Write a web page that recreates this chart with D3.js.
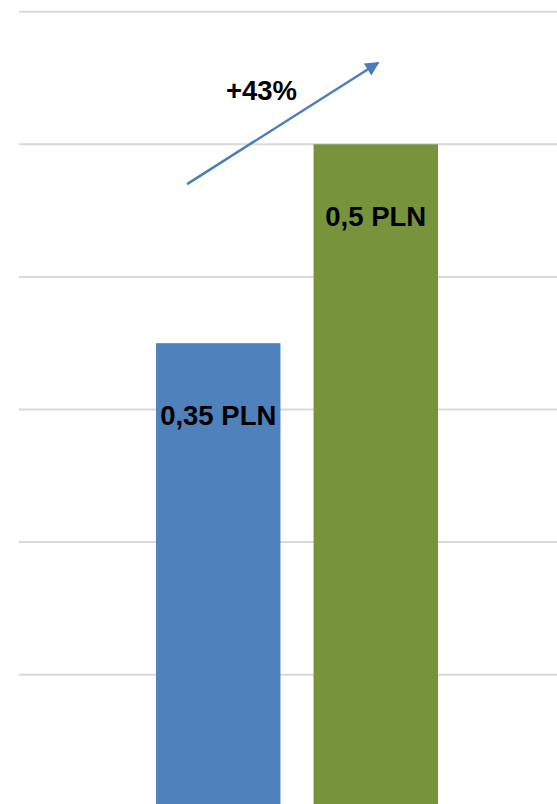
<!DOCTYPE html>
<html>
<head>
<meta charset="utf-8">
<script src="https://cdn.jsdelivr.net/npm/d3@7"></script>
<style>
  html, body { margin: 0; padding: 0; background: #fff; }
  svg { display: block; }
  .lbl { font-family: "Liberation Sans", Arial, sans-serif; font-weight: bold; fill: #000; }
</style>
</head>
<body>
<svg id="chart" width="557" height="804"></svg>
<script>
// data
var categories = ["przed", "po"];
var values = [0.35, 0.5];
var labels = ["0,35 PLN", "0,5 PLN"];
var colors = ["#4f81bd", "#77933c"];
var gridTicks = [0.1, 0.2, 0.3, 0.4, 0.5, 0.6];
var changeLabel = "+43%";

(function(){
	var svg = d3.select("#chart");

	var x = d3.scaleBand()
		.domain(categories)
		.range([156, 438])
		.paddingInner(0.21)
		.paddingOuter(0);

	var y = d3.scaleLinear()
		.domain([0, 0.6])
		.range([807.3, 11.7]);

	// gridlines
	svg.append("g")
		.selectAll("line")
		.data(gridTicks)
		.enter().append("line")
			.attr("x1", 19)
			.attr("x2", 557)
			.attr("y1", function(d){ return y(d); })
			.attr("y2", function(d){ return y(d); })
			.attr("stroke", "#d9d9d9")
			.attr("stroke-width", 2);

	// bars
	svg.append("g")
		.selectAll("rect")
		.data(values)
		.enter().append("rect")
			.attr("x", function(d, i){ return x(categories[i]); })
			.attr("y", function(d){ return y(d); })
			.attr("width", x.bandwidth())
			.attr("height", function(d){ return y(0) - y(d); })
			.attr("fill", function(d, i){ return colors[i]; });

	// value labels
	svg.append("g")
		.selectAll("text")
		.data(values)
		.enter().append("text")
			.attr("class", "lbl")
			.attr("x", function(d, i){ return x(categories[i]) + x.bandwidth() / 2; })
			.attr("y", function(d){ return y(d) + 82; })
			.attr("text-anchor", "middle")
			.style("font-size", "27.5px")
			.text(function(d, i){ return labels[i]; });

	// arrow annotation
	var defs = svg.append("defs");
	defs.append("marker")
		.attr("id", "head")
		.attr("viewBox", "0 0 10 10")
		.attr("refX", 9)
		.attr("refY", 5)
		.attr("markerUnits", "userSpaceOnUse")
		.attr("markerWidth", 18)
		.attr("markerHeight", 14)
		.attr("orient", "auto")
		.append("path")
			.attr("d", "M0,0 L10,5 L0,10 Z")
			.attr("fill", "#4a7ebb");

	var x0 = x(categories[0]) + x.bandwidth() * 0.25;
	var y0 = y(0.47);
	var x1 = x(categories[1]) + x.bandwidth() * 0.52;
	var y1 = y(0.5615);

	svg.append("line")
		.attr("x1", x0)
		.attr("y1", y0)
		.attr("x2", x1)
		.attr("y2", y1)
		.attr("stroke", "#4a7ebb")
		.attr("stroke-width", 2.5)
		.attr("marker-end", "url(#head)");

	svg.append("text")
		.attr("class", "lbl")
		.attr("x", 261.5)
		.attr("y", 100)
		.attr("text-anchor", "middle")
		.style("font-size", "27.5px")
		.text(changeLabel);
})();
</script>
</body>
</html>
